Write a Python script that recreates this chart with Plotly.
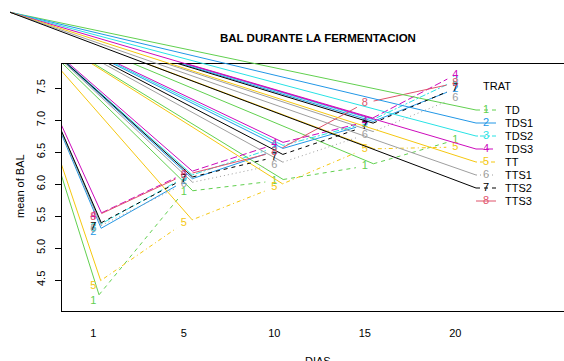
import plotly.graph_objects as go
import numpy as np

# ---------------- data ----------------
DIAS = ["1", "5", "10", "15", "20"]
TRAT = ["TD", "TDS1", "TDS2", "TDS3", "TT", "TTS1", "TTS2", "TTS3"]
BAL_TD   = [4.16, 5.88, 6.05, 6.28, 6.69]
BAL_TDS1 = [5.24, 6.04, 6.52, 6.93, 7.49]
BAL_TDS2 = [5.31, 6.10, 6.57, 6.95, 7.62]
BAL_TDS3 = [5.49, 6.16, 6.62, 6.97, 7.71]
BAL_TT   = [4.41, 5.39, 5.95, 6.55, 6.58]
BAL_TTS1 = [5.29, 6.00, 6.30, 6.77, 7.35]
BAL_TTS2 = [5.33, 6.08, 6.42, 6.90, 7.50]
BAL_TTS3 = [5.48, 6.14, 6.50, 7.27, 7.58]
SERIES = [BAL_TD, BAL_TDS1, BAL_TDS2, BAL_TDS3, BAL_TT, BAL_TTS1, BAL_TTS2, BAL_TTS3]
Y_TICKS = [4.5, 5.0, 5.5, 6.0, 6.5, 7.0, 7.5]
# stray convergence point (in axis units) that the drawing joined lines to
CORNER_POS, CORNER_BAL = 0.08, 8.69

# ---------------- styles ----------------
COLORS = ["#61D04F", "#2297E6", "#28E2E5", "#CD0BBC", "#F5C710", "#9E9E9E", "#000000", "#DF536B"]
DASHES = ["4px,4px", "solid", "2px,2px,6px,2px", "7px,3px", "1px,3px,4px,3px", "1px,3px", "4px,4px", "solid"]
HAS_STRAY = [True, True, True, True, True, True, True, False]

W, H = 564, 361
PL, PT, PB = 62, 64, 311           # plot box (px); right edge lies beyond the window
X0_PX, X_STEP = 93.3, 90.5         # px of level 1, px per level
Y_REF, Y_REF_PX, Y_UNIT = 7.5, 88.3, 63.9

def lvl(px):
    return 1 + (px - X0_PX) / X_STEP

def val(py):
    return Y_REF - (py - Y_REF_PX) / Y_UNIT

def to_px(x, y):
    return X0_PX + (x - 1) * X_STEP, Y_REF_PX - (y - Y_REF) * Y_UNIT

FONT = "Liberation Sans, Arial, sans-serif"
GAP = 9.0

fig = go.Figure()

for i, vals in enumerate(SERIES):
    col, dash = COLORS[i], DASHES[i]
    xs = list(range(1, len(DIAS) + 1))
    seg_x, seg_y, st_x, st_y = [], [], [], []
    for k in range(len(xs) - 1):
        ax, ay = to_px(xs[k], vals[k])
        bx, by = to_px(xs[k + 1], vals[k + 1])
        d = np.hypot(bx - ax, by - ay)
        ux, uy = (bx - ax) / d, (by - ay) / d
        sx, sy = ax + GAP * ux, ay + GAP * uy
        ex, ey = bx - GAP * ux, by - GAP * uy
        seg_x += [lvl(sx), lvl(ex), None]
        seg_y += [val(sy), val(ey), None]
        st_x += [CORNER_POS, lvl(sx), None]
        st_y += [CORNER_BAL, val(sy), None]
    if HAS_STRAY[i]:
        fig.add_trace(go.Scatter(x=st_x, y=st_y, mode="lines", xaxis="x", yaxis="y",
                                 line=dict(color=col, width=1), hoverinfo="skip", showlegend=False))
    fig.add_trace(go.Scatter(x=seg_x, y=seg_y, mode="lines", xaxis="x", yaxis="y",
                             line=dict(color=col, width=1, dash=dash), hoverinfo="skip", showlegend=False))
    fig.add_trace(go.Scatter(x=xs, y=vals, mode="text", text=[str(i + 1)] * len(xs),
                             textfont=dict(color=col, size=11, family=FONT), xaxis="x", yaxis="y",
                             hoverinfo="skip", showlegend=False))

# ---------------- hand-drawn legend (overlay axes covering the page) ----------------
LEG_Y0, LEG_DY = 110, 13
LEG_X1, LEG_X2, LEG_XN, LEG_XT = 476, 496, 486, 503
for i, name in enumerate(TRAT):
    col, dash = COLORS[i], DASHES[i]
    py = LEG_Y0 + LEG_DY * i
    if HAS_STRAY[i]:
        fig.add_trace(go.Scatter(x=[CORNER_POS, lvl(LEG_X1)], y=[CORNER_BAL, val(py)], mode="lines",
                                 xaxis="x2", yaxis="y2", line=dict(color=col, width=1),
                                 hoverinfo="skip", showlegend=False))
    fig.add_trace(go.Scatter(x=[lvl(LEG_X1), lvl(LEG_X2)], y=[val(py), val(py)], mode="lines",
                             xaxis="x2", yaxis="y2", line=dict(color=col, width=1, dash=dash),
                             hoverinfo="skip", showlegend=False))
    fig.add_trace(go.Scatter(x=[lvl(LEG_XN)], y=[val(py)], mode="text", text=[str(i + 1)],
                             textfont=dict(color=col, size=11, family=FONT), xaxis="x2", yaxis="y2",
                             hoverinfo="skip", showlegend=False))

ann = [
    dict(text="<b>BAL DURANTE LA FERMENTACION</b>", x=318 / W, y=1 - 38 / H, xref="paper", yref="paper",
         showarrow=False, font=dict(size=11.5, family=FONT, color="black"), xanchor="center", yanchor="middle"),
    dict(text="mean of BAL", x=20 / W, y=1 - 186 / H, xref="paper", yref="paper", textangle=-90,
         showarrow=False, font=dict(size=11, family=FONT, color="black"), xanchor="center", yanchor="middle"),
    dict(text="DIAS", x=318 / W, y=1 - 353 / H, xref="paper", yref="paper",
         showarrow=False, font=dict(size=11, family=FONT, color="black"), xanchor="center", yanchor="top"),
    dict(text="TRAT", x=481 / W, y=1 - 86 / H, xref="paper", yref="paper",
         showarrow=False, font=dict(size=11, family=FONT, color="black"), xanchor="left", yanchor="middle"),
]
for i, name in enumerate(TRAT):
    ann.append(dict(text=name, x=LEG_XT / W, y=1 - (LEG_Y0 + LEG_DY * i) / H, xref="paper", yref="paper",
                    showarrow=False, font=dict(size=11, family=FONT, color="black"),
                    xanchor="left", yanchor="middle"))

fig.update_layout(
    width=W, height=H, margin=dict(l=0, r=0, t=0, b=0),
    paper_bgcolor="white", plot_bgcolor="rgba(0,0,0,0)",
    showlegend=False, annotations=ann,
    xaxis=dict(domain=[PL / W, 1], range=[lvl(PL), lvl(W)], tickvals=[1, 2, 3, 4, 5], ticktext=DIAS,
               showgrid=False, zeroline=False, showline=True, mirror=True, linecolor="black", linewidth=1,
               ticks="outside", ticklen=12, tickcolor="rgba(0,0,0,0)",
               tickfont=dict(size=11, family=FONT, color="black"), anchor="y"),
    yaxis=dict(domain=[1 - PB / H, 1 - PT / H], range=[val(PB), val(PT)], tickvals=Y_TICKS,
               ticktext=[f"{t:.1f}" for t in Y_TICKS],
               showgrid=False, zeroline=False, showline=True, linecolor="black", linewidth=1,
               ticks="outside", ticklen=6, tickcolor="black", tickangle=-90, ticklabelstandoff=6,
               tickfont=dict(size=11, family=FONT, color="black"), anchor="x"),
    xaxis2=dict(domain=[0, 1], range=[lvl(0), lvl(W)], visible=False, anchor="y2"),
    yaxis2=dict(domain=[0, 1], range=[val(H), val(0)], visible=False, anchor="x2"),
)

fig.write_html("out.html", config={"displayModeBar": False, "staticPlot": True},
               post_script="document.body.style.margin='0';document.body.style.overflow='hidden';")
